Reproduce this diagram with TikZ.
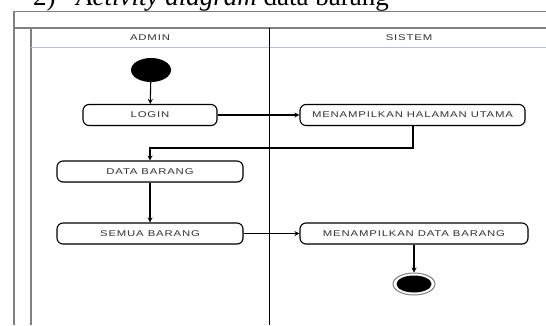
\documentclass[tikz,border=0pt]{standalone}
\usepackage{fontspec}
\setmainfont{Liberation Serif}
\newfontfamily\lblfont[FakeStretch=1.35,LetterSpace=10]{Liberation Sans}
\usetikzlibrary{arrows.meta,shadows,shapes.geometric}
\definecolor{txtgray}{HTML}{333333}
\definecolor{framegray}{HTML}{808080}
\definecolor{headline}{HTML}{B8C4D0}
\tikzset{
  actbox/.style={draw=black, line width=1.1pt, rounded corners=6pt, fill=white,
    minimum height=21pt, inner sep=0pt, font=\lblfont\fontsize{8.4}{10}\selectfont, text=txtgray,
    drop shadow={shadow xshift=0.8pt, shadow yshift=-0.8pt, opacity=0.25}},
  flow/.style={draw=black, line width=1.1pt, -{Stealth[length=5pt,width=5pt]}},
  lane/.style={font=\lblfont\fontsize{8.4}{10}\selectfont, text=txtgray},
  frameline/.style={draw=framegray, line width=1.2pt},
}
\begin{document}
\begin{tikzpicture}[x=1pt,y=-1pt]
\useasboundingbox (0,0) rectangle (546,325);
\fill[white] (0,0) rectangle (546,325);
% title (cut off at top, as in the reference)
\node[anchor=base west, inner sep=0pt, font=\fontsize{27}{30}\selectfont] (num) at (33,5) {2)};
\node[anchor=base west, inner sep=0pt, font=\fontsize{27}{30}\selectfont] (title) at (76,5) {\textit{Activity diagram} data barang};
% frame
\draw[frameline] (14,325) -- (14,11.5) -- (546,11.5);
\draw[frameline] (14,28) -- (546,28);
\draw[frameline] (31,28) -- (31,325);
\draw[draw=headline, line width=1pt] (31,47) -- (546,47);
\draw[black, line width=0.8pt] (269,28) -- (269,325);
\node[lane] (admin) at (150,38) {ADMIN};
\node[lane] (sistem) at (409,38) {SISTEM};
% nodes
\node[ellipse, fill=black, minimum width=40pt, minimum height=24pt, inner sep=0pt] (start) at (151,70) {};
\node[actbox, minimum width=134pt] (login) at (150,115) {LOGIN};
\node[actbox, minimum width=225pt] (mhu) at (412.5,115) {MENAMPILKAN HALAMAN UTAMA};
\node[actbox, minimum width=186pt] (data) at (150,171.5) {DATA BARANG};
\node[actbox, minimum width=186pt] (semua) at (150,233.5) {SEMUA BARANG};
\node[actbox, minimum width=228pt] (mdb) at (414,233.5) {MENAMPILKAN DATA BARANG};
\node[ellipse, draw=gray, line width=1pt, fill=white, minimum width=42pt, minimum height=22pt, inner sep=0pt] (endo) at (414,284) {};
\node[ellipse, fill=black, minimum width=35pt, minimum height=17pt, inner sep=0pt] (endi) at (414,284) {};
% connectors
\draw[flow] (start) -- (login);
\draw[flow] (login) -- (mhu);
\coordinate (bend1) at (413,148);
\coordinate (bend2) at (150,148);
\draw[flow] (mhu.south -| bend1) -- (bend1) -- (bend2) -- (data.north);
\draw[flow] (data) -- (semua);
\draw[flow] (semua) -- (mdb);
\draw[flow] (mdb) -- (endo);
\end{tikzpicture}
\end{document}
